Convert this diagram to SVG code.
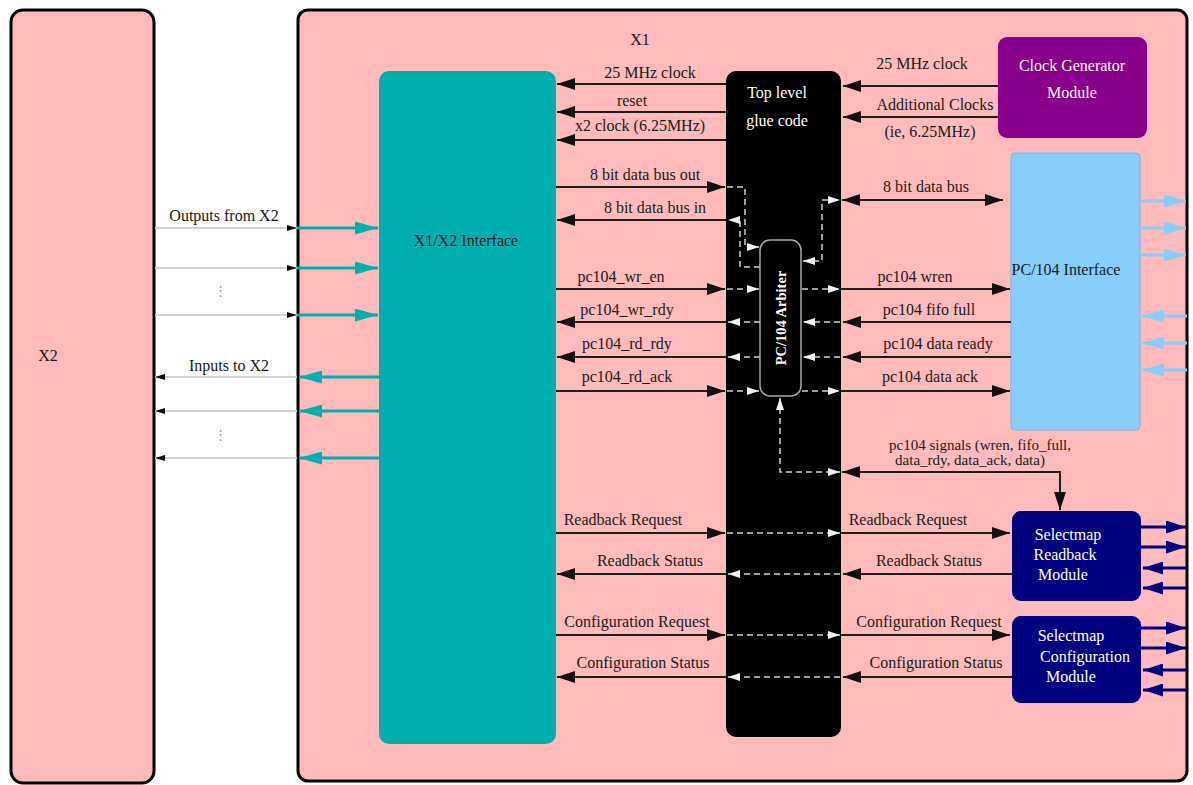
<svg xmlns="http://www.w3.org/2000/svg" width="1193" height="785" viewBox="0 0 1193 785">
<style>
.t{font-family:"Liberation Serif","Times New Roman",serif;font-size:16px;fill:#1a1a1a;text-anchor:middle}
.w{fill:#ffffff}
.ln{stroke:#1e1e1e;stroke-width:2;fill:none;marker-end:url(#ab)}
.bi{stroke:#1e1e1e;stroke-width:2;fill:none;marker-start:url(#ab);marker-end:url(#ab)}
.dl{stroke:#cfcfcf;stroke-width:1.5;stroke-dasharray:6,4;fill:none;marker-end:url(#aw)}
.dbi{stroke:#cfcfcf;stroke-width:1.5;stroke-dasharray:6,4;fill:none;marker-start:url(#aw);marker-end:url(#aw)}
.gl{stroke:#d4d4d4;stroke-width:2;fill:none;marker-end:url(#as)}
.tl{stroke:#00b0b0;stroke-width:3;fill:none;marker-end:url(#at)}
.bl{stroke:#87cefa;stroke-width:3;fill:none;marker-end:url(#alb)}
.nl{stroke:#000080;stroke-width:3;fill:none;marker-end:url(#an)}
</style>
<defs>
<marker id="ab" markerUnits="userSpaceOnUse" markerWidth="18" markerHeight="12" refX="18" refY="6" orient="auto-start-reverse"><path d="M0,0 L18,6 L0,12 z" fill="#111"/></marker>
<marker id="aw" markerUnits="userSpaceOnUse" markerWidth="12" markerHeight="8" refX="12" refY="4" orient="auto-start-reverse"><path d="M0,0 L12,4 L0,8 z" fill="#f0f0f0"/></marker>
<marker id="as" markerUnits="userSpaceOnUse" markerWidth="10" markerHeight="6" refX="10" refY="3" orient="auto"><path d="M0,0 L10,3 L0,6 z" fill="#111"/></marker>
<marker id="at" markerUnits="userSpaceOnUse" markerWidth="23" markerHeight="13" refX="23" refY="6.5" orient="auto"><path d="M0,0 L23,6.5 L0,13 z" fill="#00b0b0"/></marker>
<marker id="alb" markerUnits="userSpaceOnUse" markerWidth="22" markerHeight="13" refX="22" refY="6.5" orient="auto"><path d="M0,0 L22,6.5 L0,13 z" fill="#87cefa"/></marker>
<marker id="an" markerUnits="userSpaceOnUse" markerWidth="20" markerHeight="13" refX="20" refY="6.5" orient="auto"><path d="M0,0 L20,6.5 L0,13 z" fill="#000080"/></marker>
</defs>
<rect width="1193" height="785" fill="#ffffff"/>

<g id="x2">
<rect x="11" y="10" width="143" height="773" rx="12" fill="#ffbbbb" stroke="#000" stroke-width="3"/>
<text class="t" x="48" y="361">X2</text>
</g>
<g id="x1">
<rect x="298" y="10" width="889" height="771" rx="10" fill="#ffbbbb" stroke="#000" stroke-width="3"/>
<text class="t" x="640" y="45">X1</text>
</g>
<g id="x1x2-interface">
<rect x="379" y="71" width="177" height="673" rx="10" fill="#00b0b0"/>
<text class="t" x="466" y="246">X1/X2 Interface</text>
</g>
<g id="glue">
<rect x="726" y="71" width="115" height="666" rx="10" fill="#000"/>
<text class="t w" x="777" y="98">Top level</text>
<text class="t w" x="777" y="126">glue code</text>
</g>
<g id="clockgen">
<rect x="998" y="37" width="149" height="101" rx="9" fill="#8b008b"/>
<text class="t w" x="1072" y="71">Clock Generator</text>
<text class="t w" x="1072" y="98">Module</text>
</g>
<g id="pc104-interface">
<rect x="1011" y="153" width="129" height="277" rx="4" fill="#87cefa" stroke="#7ab8e0" stroke-width="1"/>
<text class="t" x="1066" y="275">PC/104 Interface</text>
</g>
<g id="readback">
<rect x="1012" y="511" width="129" height="90" rx="9" fill="#000080"/>
<text class="t w" x="1068" y="540">Selectmap</text>
<text class="t w" x="1065" y="560">Readback</text>
<text class="t w" x="1063" y="580">Module</text>
</g>
<g id="configuration">
<rect x="1012" y="616" width="129" height="87" rx="9" fill="#000080"/>
<text class="t w" x="1071" y="641">Selectmap</text>
<text class="t w" x="1085" y="662">Configuration</text>
<text class="t w" x="1071" y="682">Module</text>
</g>
<g id="arbiter">
<rect x="760" y="240" width="41" height="156" rx="10" fill="#000" stroke="#a8a8a8" stroke-width="1.5"/>
<text class="t w" x="0" y="0" transform="translate(786,318) rotate(-90)" style="font-size:14.5px;font-weight:bold">PC/104 Arbiter</text>
</g>

<g id="connectors">
<path class="gl" d="M155,228 H297"/>
<path class="gl" d="M155,268 H297"/>
<path class="gl" d="M155,315 H297"/>
<path class="tl" d="M297,228 H378"/>
<path class="tl" d="M297,268 H378"/>
<path class="tl" d="M297,315 H378"/>
<path class="tl" d="M379,377 H299"/>
<path class="tl" d="M379,411 H299"/>
<path class="tl" d="M379,458 H299"/>
<path class="gl" d="M297,377 H155"/>
<path class="gl" d="M297,411 H155"/>
<path class="gl" d="M297,458 H155"/>

<path class="ln" d="M726,84 H557"/>
<path class="ln" d="M726,112 H557"/>
<path class="ln" d="M726,140 H557"/>
<path class="ln" d="M556,187 H725"/>
<path class="ln" d="M726,220 H557"/>
<path class="ln" d="M556,289 H725"/>
<path class="ln" d="M726,322 H557"/>
<path class="ln" d="M726,357 H557"/>
<path class="ln" d="M556,391 H725"/>
<path class="ln" d="M556,533 H725"/>
<path class="ln" d="M726,574 H557"/>
<path class="ln" d="M556,635 H725"/>
<path class="ln" d="M726,677 H557"/>

<path class="ln" d="M998,86 H843"/>
<path class="ln" d="M998,117 H843"/>
<path class="bi" d="M842,200 H1003"/>
<path class="ln" d="M841,289 H1010"/>
<path class="ln" d="M1011,322 H843"/>
<path class="ln" d="M1011,357 H843"/>
<path class="ln" d="M841,391 H1010"/>
<path class="bi" d="M842,472 H1060 V510"/>
<path class="ln" d="M841,533 H1010"/>
<path class="ln" d="M1012,574 H843"/>
<path class="ln" d="M841,635 H1010"/>
<path class="ln" d="M1012,677 H843"/>

<path class="dl" d="M727,187 H745 V247 H759"/>
<path class="dl" d="M760,267 H740 V220 H728"/>
<path class="dbi" d="M803,261 H822 V200 H840"/>
<path class="dl" d="M727,289 H759"/>
<path class="dl" d="M802,289 H840"/>
<path class="dl" d="M760,322 H728"/>
<path class="dl" d="M840,322 H803"/>
<path class="dl" d="M760,357 H728"/>
<path class="dl" d="M840,357 H803"/>
<path class="dl" d="M727,391 H759"/>
<path class="dl" d="M802,391 H840"/>
<path class="dbi" d="M780,398 V472 H840"/>
<path class="dl" d="M727,533 H840"/>
<path class="dl" d="M840,574 H728"/>
<path class="dl" d="M727,635 H840"/>
<path class="dl" d="M840,677 H728"/>

<path class="bl" d="M1141,201 H1186"/>
<path class="bl" d="M1141,228 H1186"/>
<path class="bl" d="M1141,255 H1186"/>
<path class="bl" d="M1187,316 H1142"/>
<path class="bl" d="M1187,343 H1142"/>
<path class="bl" d="M1187,370 H1142"/>
<path class="nl" d="M1141,527 H1186"/>
<path class="nl" d="M1141,547 H1186"/>
<path class="nl" d="M1187,568 H1143"/>
<path class="nl" d="M1187,588 H1143"/>
<path class="nl" d="M1141,628 H1186"/>
<path class="nl" d="M1141,648 H1186"/>
<path class="nl" d="M1187,670 H1143"/>
<path class="nl" d="M1187,690 H1143"/>
</g>

<g id="labels">
<text class="t" x="224" y="221">Outputs from X2</text>
<text class="t" x="220" y="295" style="fill:#999;font-size:13px">⋮</text>
<text class="t" x="229" y="371">Inputs to X2</text>
<text class="t" x="220" y="439" style="fill:#999;font-size:13px">⋮</text>

<text class="t" x="650" y="78">25 MHz clock</text>
<text class="t" x="632" y="106">reset</text>
<text class="t" x="640" y="131">x2 clock (6.25MHz)</text>
<text class="t" x="645" y="180">8 bit data bus out</text>
<text class="t" x="655" y="213">8 bit data bus in</text>
<text class="t" x="621" y="282">pc104_wr_en</text>
<text class="t" x="627" y="315">pc104_wr_rdy</text>
<text class="t" x="627" y="349">pc104_rd_rdy</text>
<text class="t" x="627" y="382">pc104_rd_ack</text>
<text class="t" x="623" y="525">Readback Request</text>
<text class="t" x="650" y="566">Readback Status</text>
<text class="t" x="637" y="627">Configuration Request</text>
<text class="t" x="643" y="668">Configuration Status</text>

<text class="t" x="922" y="69">25 MHz clock</text>
<text class="t" x="935" y="110">Additional Clocks</text>
<text class="t" x="930" y="137">(ie, 6.25MHz)</text>
<text class="t" x="926" y="192">8 bit data bus</text>
<text class="t" x="915" y="282">pc104 wren</text>
<text class="t" x="929" y="315">pc104 fifo full</text>
<text class="t" x="938" y="349">pc104 data ready</text>
<text class="t" x="930" y="382">pc104 data ack</text>
<text class="t" x="980" y="450" style="font-size:15px">pc104 signals (wren, fifo_full,</text>
<text class="t" x="970" y="465" style="font-size:15px">data_rdy, data_ack, data)</text>
<text class="t" x="908" y="525">Readback Request</text>
<text class="t" x="929" y="566">Readback Status</text>
<text class="t" x="929" y="627">Configuration Request</text>
<text class="t" x="936" y="668">Configuration Status</text>
</g>
</svg>
